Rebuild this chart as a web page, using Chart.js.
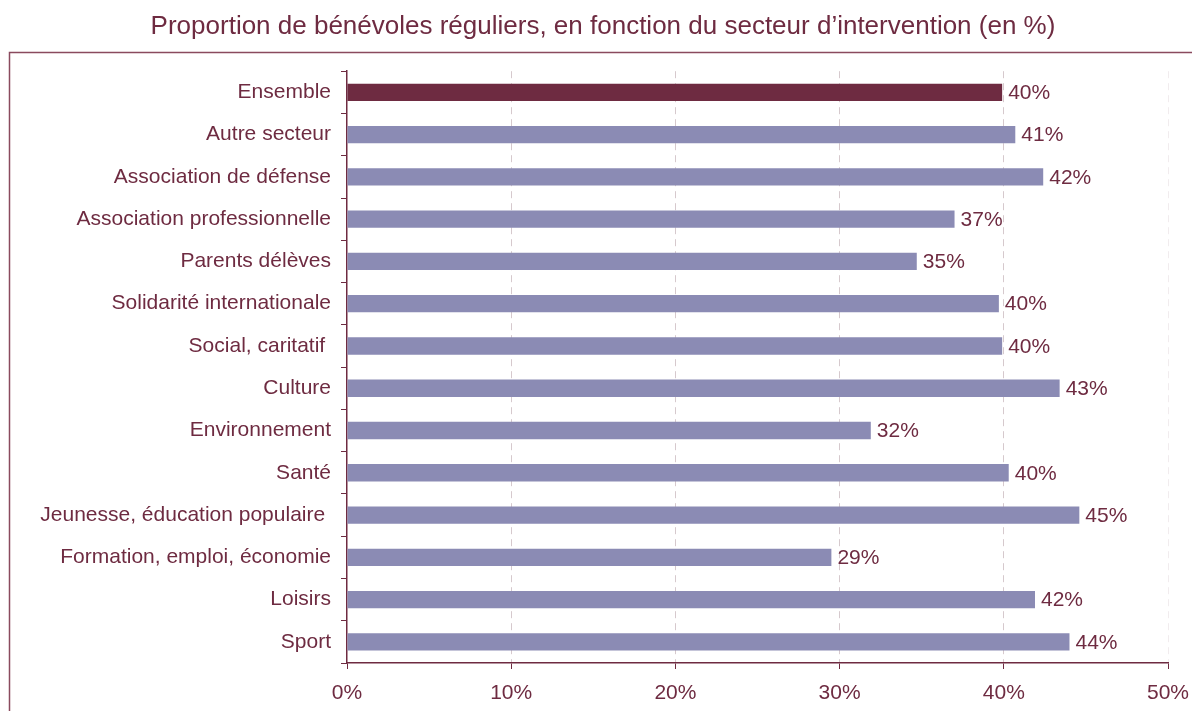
<!DOCTYPE html>
<html>
<head>
<meta charset="utf-8">
<script src="https://cdn.jsdelivr.net/npm/chart.js@4/dist/chart.umd.min.js"></script>
<style>
  html, body { margin: 0; padding: 0; background: #fff; }
  #wrap { position: relative; width: 1192px; height: 711px; }
</style>
</head>
<body>
<div id="wrap"><canvas id="chart" width="1192" height="711"></canvas></div>
<script>
// Data
const sectors = [
  "Ensemble",
  "Autre secteur",
  "Association de défense",
  "Association professionnelle",
  "Parents délèves",
  "Solidarité internationale",
  "Social, caritatif ",
  "Culture",
  "Environnement",
  "Santé",
  "Jeunesse, éducation populaire ",
  "Formation, emploi, économie",
  "Loisirs",
  "Sport"
];
const shares = [39.9, 40.7, 42.4, 37.0, 34.7, 39.7, 39.9, 43.4, 31.9, 40.3, 44.6, 29.5, 41.9, 44.0];
const shareLabels = ["40%", "41%", "42%", "37%", "35%", "40%", "40%", "43%", "32%", "40%", "45%", "29%", "42%", "44%"];
const xTicks = [0, 10, 20, 30, 40, 50];

const MAROON = "#6e2b41";
const LAVENDER = "#8b8bb4";
const FONT = "'Liberation Sans', Arial, sans-serif";

// frame around the whole chart (opens off the right and bottom edges)
const framePlugin = {
  id: "frame",
  beforeDraw(chart) {
    const c = chart.ctx;
    c.save();
    c.strokeStyle = "#8a4a5e";
    c.lineWidth = 1.5;
    c.beginPath();
    c.moveTo(9.5, 711);
    c.lineTo(9.5, 52.5);
    c.lineTo(1192, 52.5);
    c.stroke();
    c.restore();
  }
};

// value labels at the end of each bar
const valueLabels = {
  id: "valueLabels",
  afterDatasetsDraw(chart) {
    const c = chart.ctx;
    const meta = chart.getDatasetMeta(0);
    c.save();
    c.font = "21px " + FONT;
    c.fillStyle = MAROON;
    c.textAlign = "left";
    c.textBaseline = "middle";
    meta.data.forEach((bar, i) => {
      c.fillText(shareLabels[i], bar.x + 6, bar.y + 1);
    });
    c.restore();
  }
};

const ctx = document.getElementById("chart").getContext("2d");
new Chart(ctx, {
  type: "bar",
  data: {
    labels: sectors,
    datasets: [{
      data: shares,
      backgroundColor: shares.map((v, i) => i === 0 ? MAROON : LAVENDER),
      borderWidth: 0,
      barPercentage: 0.41,
      categoryPercentage: 1
    }]
  },
  options: {
    indexAxis: "y",
    responsive: false,
    animation: false,
    layout: { padding: { left: 38, right: 24, top: 0, bottom: 0 } },
    plugins: {
      legend: { display: false },
      tooltip: { enabled: false },
      title: {
        display: true,
        text: "Proportion de bénévoles réguliers, en fonction du secteur d’intervention (en %)",
        color: MAROON,
        font: { family: FONT, size: 26, weight: "normal" },
        padding: { top: 11, bottom: 29 }
      }
    },
    scales: {
      x: {
        min: 0,
        max: 50,
        afterBuildTicks(scale) {
          scale.ticks = xTicks.map(v => ({ value: v }));
        },
        afterFit(scale) {
          scale.height = 48;
          scale.paddingLeft = 0;
          scale.paddingRight = 0;
        },
        border: { color: MAROON, width: 1.5, dash: [7, 5] },
        grid: {
          color: ctx => ctx.index === 0 ? "rgba(0,0,0,0)" : (ctx.index === 5 ? "#f1ecee" : "#d6c9cd"),
          lineWidth: 1,
          tickColor: MAROON,
          tickBorderDash: [],
          tickLength: 6
        },
        ticks: {
          color: MAROON,
          font: { family: FONT, size: 21 },
          padding: 12,
          callback: v => v + "%"
        }
      },
      y: {
        afterFit(scale) { scale.width = 309; },
        border: { color: MAROON, width: 1.5 },
        grid: {
          offset: true,
          drawOnChartArea: false,
          tickColor: MAROON,
          tickLength: 6
        },
        ticks: {
          color: MAROON,
          font: { family: FONT, size: 21 },
          padding: 10
        }
      }
    }
  },
  plugins: [framePlugin, valueLabels]
});
</script>
</body>
</html>
